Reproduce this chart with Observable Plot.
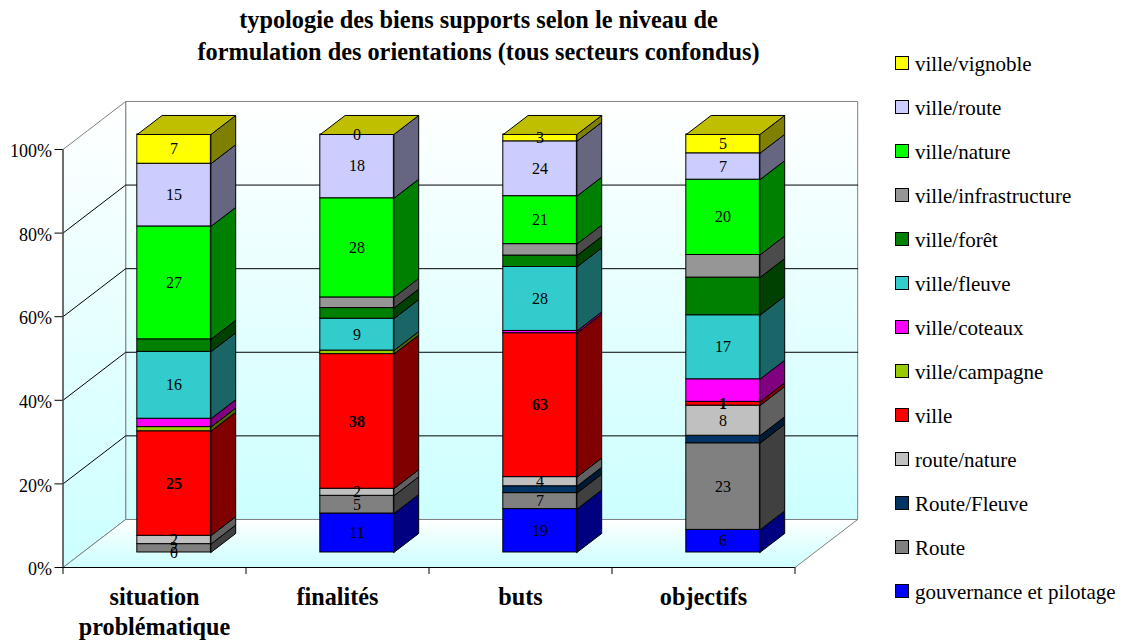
<!DOCTYPE html>
<html lang="fr">
<head>
<meta charset="utf-8">
<script src="https://cdn.jsdelivr.net/npm/d3@7"></script>
<script src="https://cdn.jsdelivr.net/npm/@observablehq/plot@0.6"></script>
<style>
  html, body { margin: 0; padding: 0; background: #fff; width: 1122px; height: 642px; overflow: hidden; font-family: "Liberation Serif", serif; color: #000; }
  #title { position: absolute; left: 0; top: 4px; width: 957px; text-align: center; font-weight: bold; font-size: 24.3px; line-height: 32px; white-space: nowrap; }
  #chart { position: absolute; left: 0; top: 90px; }
  #legend { position: absolute; left: 895px; top: 42px; }
  .row { height: 44px; display: flex; align-items: center; font-size: 21px; white-space: nowrap; }
  .sw { width: 12px; height: 12px; border: 1px solid #000; margin-right: 6px; position: relative; top: -1px; flex: none; }
</style>
</head>
<body>
<div id="title">typologie des biens supports selon le niveau de<br>formulation des orientations (tous secteurs confondus)</div>
<div id="chart"></div>
<div id="legend"></div>
<script>
const categories = ["situation\nproblématique", "finalités", "buts", "objectifs"];

const seriesNames = ["gouvernance et pilotage", "Route", "Route/Fleuve", "route/nature", "ville", "ville/campagne", "ville/coteaux", "ville/fleuve", "ville/forêt", "ville/infrastructure", "ville/nature", "ville/route", "ville/vignoble"];
const gouvernance = [0, 11, 19, 6];
const route = [2, 5, 7, 23];
const routeFleuve = [0, 0, 3, 2];
const routeNature = [2, 2, 4, 8];
const ville = [25, 38, 63, 1];
const villeCampagne = [1, 1, 0, 0];
const villeCoteaux = [2, 0, 1, 6];
const villeFleuve = [16, 9, 28, 17];
const villeForet = [3, 3, 5, 10];
const villeInfrastructure = [0, 3, 5, 6];
const villeNature = [27, 28, 21, 20];
const villeRoute = [15, 18, 24, 7];
const villeVignoble = [7, 0, 3, 5];
const seriesValues = [gouvernance, route, routeFleuve, routeNature, ville, villeCampagne, villeCoteaux, villeFleuve, villeForet, villeInfrastructure, villeNature, villeRoute, villeVignoble];
const seriesColors = ["#0000ff", "#808080", "#003366", "#c0c0c0", "#ff0000", "#99cc00", "#ff00ff", "#33cccc", "#008000", "#969696", "#00ff00", "#ccccff", "#ffff00"];
const labelledSeries = ["gouvernance et pilotage", "Route", "route/nature", "ville", "ville/fleuve", "ville/nature", "ville/route", "ville/vignoble"];
const boldSeries = ["ville"];
const yTicks = [0, 20, 40, 60, 80, 100];
const slotTicks = [0, 1, 2, 3, 4];

// oblique projection: depth expressed in the x (slot) and y (percent) data units
const depthX = 0.3426, depthY = 11.49;
const barFront = 0.3125, barBack = 0.7083, barWidth = 0.402;
const P = (x, y, d) => ({x: x + d * depthX, y: y + d * depthY});
const shade = (c, k) => { const r = d3.rgb(c); return d3.rgb(r.r * k, r.g * k, r.b * k).formatHex(); };

const poly = (id, fill, pts) => [...pts, pts[0]].map(p => ({...p, id, fill}));

const sides = [], tops = [], fronts = [], labels = [];
categories.forEach((cat, i) => {
  const total = d3.sum(seriesValues, s => s[i]);
  const xa = i + 0.5 - barWidth / 2, xb = i + 0.5 + barWidth / 2;
  let cum = 0;
  seriesNames.forEach((name, k) => {
    const v = seriesValues[k][i];
    const y1 = cum / total * 100, y2 = (cum + v) / total * 100;
    cum += v;
    const color = seriesColors[k];
    if (v > 0) {
      const a = P(xa, y1, barFront), b = P(xb, y2, barFront);
      fronts.push({x1: a.x, x2: b.x, y1: a.y, y2: b.y, fill: color});
      sides.push(...poly(`s${i}-${k}`, shade(color, 0.5), [P(xb, y1, barFront), P(xb, y2, barFront), P(xb, y2, barBack), P(xb, y1, barBack)]));
    }
    if (labelledSeries.includes(name)) {
      const m = P(i + 0.5, (y1 + y2) / 2, barFront);
      labels.push({...m, text: String(v), bold: boldSeries.includes(name)});
    }
  });
  tops.push(...poly(`t${i}`, shade(seriesColors[12], 0.75), [P(xa, 100, barFront), P(xb, 100, barFront), P(xb, 100, barBack), P(xa, 100, barBack)]));
});

const backWall = poly("back", "url(#wallGrad)", [P(0, 0, 1), P(4, 0, 1), P(4, 100, 1), P(0, 100, 1)]);
const sideWall = poly("side", "url(#wallGrad)", [P(0, 0, 0), P(0, 0, 1), P(0, 100, 1), P(0, 100, 0)]);
const floor = poly("floor", "url(#floorGrad)", [P(0, 0, 0), P(4, 0, 0), P(4, 0, 1), P(0, 0, 1)]);
const grid = yTicks.slice(1, -1).flatMap(t => [P(0, t, 0), P(0, t, 1), P(4, t, 1)].map(p => ({...p, id: t})));

function gradients() {
  const ns = "http://www.w3.org/2000/svg";
  const defs = document.createElementNS(ns, "defs");
  for (const id of ["wallGrad", "floorGrad"]) {
    const g = document.createElementNS(ns, "linearGradient");
    g.setAttribute("id", id);
    g.setAttribute("x1", 0); g.setAttribute("y1", 0); g.setAttribute("x2", 0); g.setAttribute("y2", 1);
    [["0%", "#ffffff"], ["100%", "#ccffff"]].forEach(([o, c]) => {
      const s = document.createElementNS(ns, "stop");
      s.setAttribute("offset", o); s.setAttribute("stop-color", c);
      g.appendChild(s);
    });
    defs.appendChild(g);
  }
  return defs;
}

const wallMark = (data) => Plot.line(data, {x: "x", y: "y", z: "id", fill: "fill", stroke: "#808080", strokeWidth: 1});
const faceMark = (data) => Plot.line(data, {x: "x", y: "y", z: "id", fill: "fill", stroke: "#000", strokeWidth: 1, strokeLinejoin: "round"});

const plot = Plot.plot({
  width: 880, height: 552,
  marginLeft: 62.5, marginRight: 85.5, marginTop: 59, marginBottom: 75,
  x: {domain: [0, 4]},
  y: {domain: [0, 100]},
  color: {type: "identity"},
  style: {background: "transparent", overflow: "visible", fontFamily: "'Liberation Serif', serif", color: "#000"},
  marks: [
    gradients,
    wallMark(backWall),
    wallMark(sideWall),
    wallMark(floor),
    Plot.line(grid, {x: "x", y: "y", z: "id", stroke: "#000", strokeWidth: 1}),
    Plot.axisY({ticks: yTicks, tickSize: 8, fill: "none", stroke: "#000", label: null}),
    Plot.axisY({ticks: yTicks, tickSize: 0, tickPadding: 11, dy: 2, fontSize: 18, tickFormat: d => d + "%", label: null, fill: "#000"}),
    Plot.axisX({ticks: slotTicks, tickSize: 7, fill: "none", stroke: "#000", label: null}),
    Plot.axisX({ticks: slotTicks.slice(0, -1).map(d => d + 0.5), tickSize: 0, tickPadding: 16.5, fontSize: 24.2, fontWeight: "bold", lineHeight: 1.24, tickFormat: d => categories[d - 0.5], label: null, fill: "#000"}),
    Plot.ruleY([0], {stroke: "#000", strokeWidth: 1}),
    Plot.ruleX([0], {y1: 0, y2: 100, stroke: "#444", strokeWidth: 1.3}),
    Plot.rect(fronts, {x1: "x1", x2: "x2", y1: "y1", y2: "y2", fill: "fill", stroke: "#000", strokeWidth: 1}),
    faceMark(sides),
    faceMark(tops),
    Plot.text(labels.filter(d => !d.bold), {x: "x", y: "y", text: "text", fontSize: 16, fill: "#000"}),
    Plot.text(labels.filter(d => d.bold), {x: "x", y: "y", text: "text", fontSize: 16, fontWeight: "bold", fill: "#000"})
  ]
});
document.getElementById("chart").appendChild(plot);

const legend = document.getElementById("legend");
seriesNames.map((n, k) => [n, seriesColors[k]]).reverse().forEach(([name, color]) => {
  const row = document.createElement("div");
  row.className = "row";
  const sw = document.createElement("span");
  sw.className = "sw";
  sw.style.background = color;
  const t = document.createElement("span");
  t.textContent = name;
  row.append(sw, t);
  legend.appendChild(row);
});
</script>
</body>
</html>
